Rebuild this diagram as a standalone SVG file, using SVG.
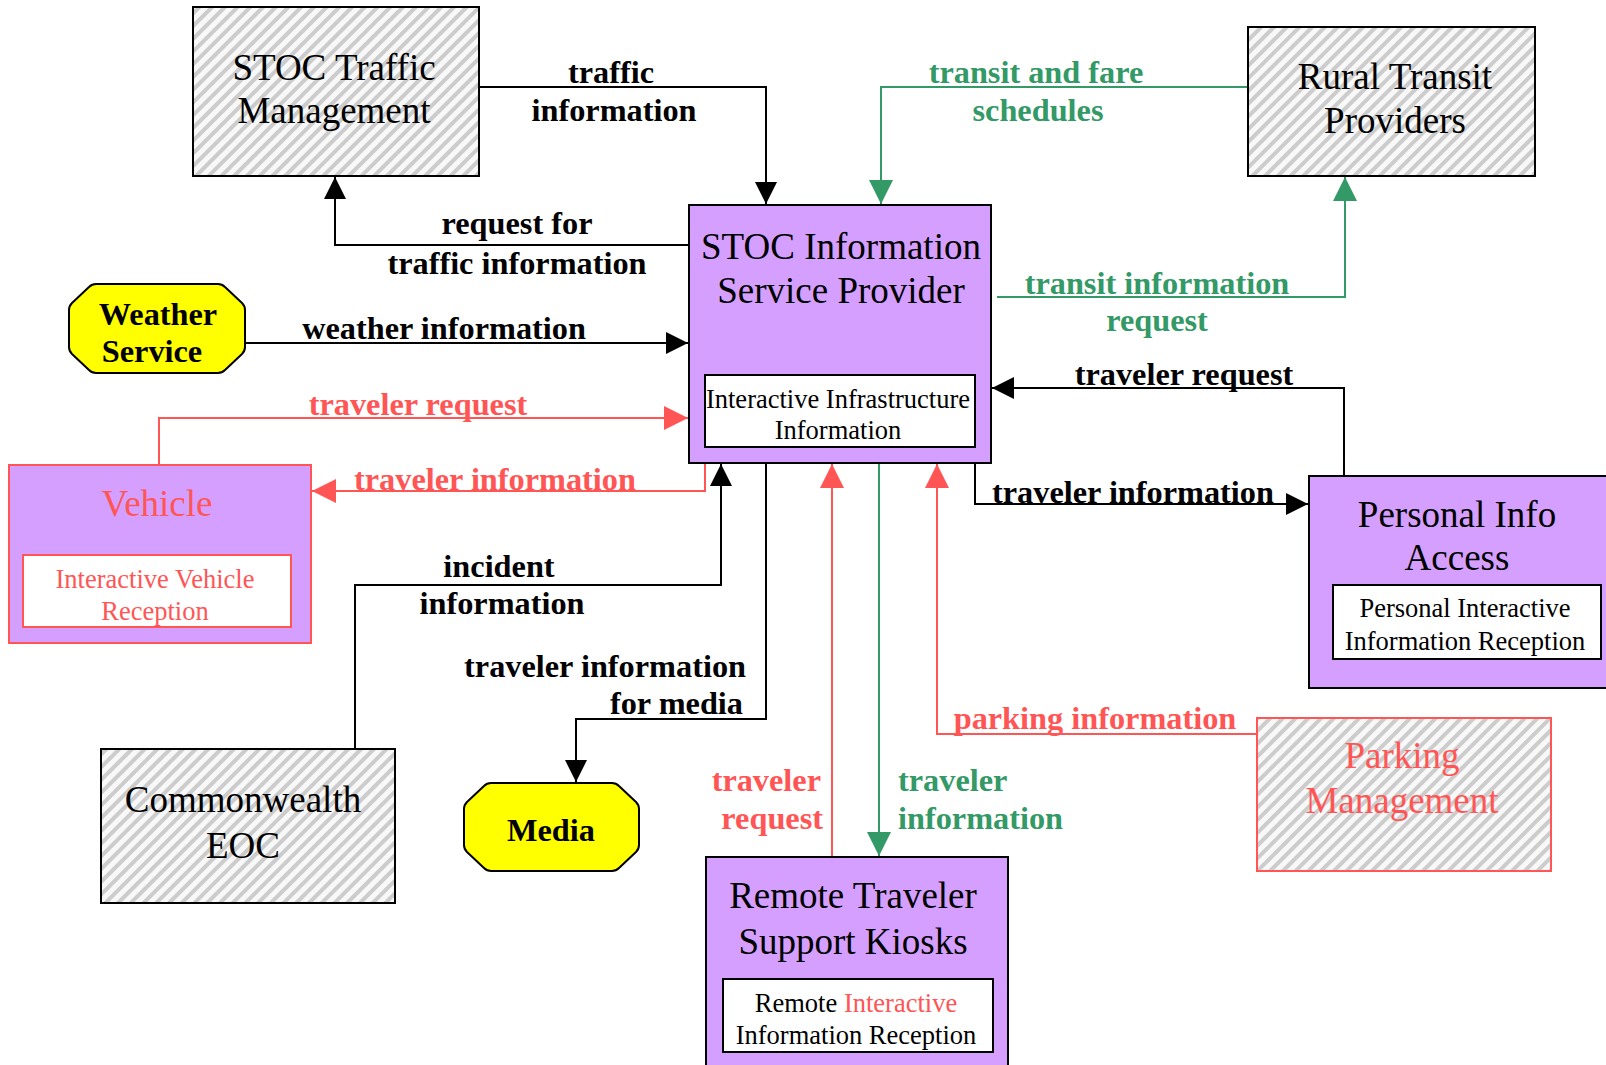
<svg xmlns="http://www.w3.org/2000/svg" width="1606" height="1065" viewBox="0 0 1606 1065">
<style>
.node-t{font-family:"Liberation Serif","Times New Roman",serif;font-size:37px;text-anchor:middle;fill:#000}
.inner-t{font-family:"Liberation Serif","Times New Roman",serif;font-size:26.5px;text-anchor:middle;fill:#000}
.lbl{font-family:"Liberation Serif","Times New Roman",serif;font-size:32.3px;font-weight:bold;fill:#000}
.red{fill:#FF5555}
.green{fill:#339966}
.c{text-anchor:middle}
.e{text-anchor:end}
.s{text-anchor:start}
.hatch{fill:url(#hatch);stroke:#000;stroke-width:2}
.hatch-red{fill:url(#hatch);stroke:#FF5555;stroke-width:2}
.purple{fill:#D49FFF;stroke:#000;stroke-width:2}
.purple-red{fill:#D49FFF;stroke:#FF5555;stroke-width:2}
.inner{fill:#fff;stroke:#000;stroke-width:2}
.inner-red{fill:#fff;stroke:#FF5555;stroke-width:2}
.yellow{fill:#FFFF00;stroke:#000;stroke-width:2;stroke-linejoin:round}
.lk{fill:none;stroke:#000;stroke-width:2}
.lr{fill:none;stroke:#FF5555;stroke-width:2}
.lg{fill:none;stroke:#339966;stroke-width:2}
</style>
<defs>
<pattern id="hatch" width="9" height="9" patternUnits="userSpaceOnUse" patternTransform="rotate(45)">
<rect width="9" height="9" fill="#f8f8f8"/>
<rect width="4" height="9" fill="#cccccc"/>
</pattern>
<marker id="ak" markerUnits="userSpaceOnUse" markerWidth="24" markerHeight="24" refX="22" refY="11" orient="auto"><path d="M0,0 L22,11 L0,22 z" fill="#000"/></marker>
<marker id="ar" markerUnits="userSpaceOnUse" markerWidth="26" markerHeight="26" refX="24" refY="12" orient="auto"><path d="M0,0 L24,12 L0,24 z" fill="#FF5555"/></marker>
<marker id="ag" markerUnits="userSpaceOnUse" markerWidth="26" markerHeight="26" refX="24" refY="12" orient="auto"><path d="M0,0 L24,12 L0,24 z" fill="#339966"/></marker>
</defs>
<rect width="1606" height="1065" fill="#fff"/>

<g id="connectors">
<path class="lk" d="M479,87 H766 V204" marker-end="url(#ak)"/>
<path class="lk" d="M689,245 H335 V177" marker-end="url(#ak)"/>
<path class="lk" d="M246,343 H688" marker-end="url(#ak)"/>
<path class="lg" d="M1248,87 H881 V204" marker-end="url(#ag)"/>
<path class="lg" d="M997,297 H1345 V177" marker-end="url(#ag)"/>
<path class="lk" d="M1344,476 V388 H992" marker-end="url(#ak)"/>
<path class="lk" d="M975,463 V504 H1308" marker-end="url(#ak)"/>
<path class="lr" d="M159,465 V418 H688" marker-end="url(#ar)"/>
<path class="lr" d="M705,463 V491 H312" marker-end="url(#ar)"/>
<path class="lk" d="M355,749 V585 H721 V464" marker-end="url(#ak)"/>
<path class="lk" d="M766,463 V719 H576 V782" marker-end="url(#ak)"/>
<path class="lr" d="M832,857 V464" marker-end="url(#ar)"/>
<path class="lg" d="M879,463 V856" marker-end="url(#ag)"/>
<path class="lr" d="M1257,734 H937 V464" marker-end="url(#ar)"/>

<text class="lbl c" x="611" y="83">traffic</text>
<text class="lbl c" x="614" y="121">information</text>
<text class="lbl c" x="517" y="234">request for</text>
<text class="lbl c" x="517" y="274">traffic information</text>
<text class="lbl c" x="444" y="339">weather information</text>
<text class="lbl c green" x="1036" y="83">transit and fare</text>
<text class="lbl c green" x="1038" y="121">schedules</text>
<text class="lbl c green" x="1157" y="294">transit information</text>
<text class="lbl c green" x="1157" y="331">request</text>
<text class="lbl c" x="1184" y="385">traveler request</text>
<text class="lbl c" x="1133" y="503">traveler information</text>
<text class="lbl c red" x="418" y="415">traveler request</text>
<text class="lbl c red" x="495" y="490">traveler information</text>
<text class="lbl c" x="499" y="577">incident</text>
<text class="lbl c" x="502" y="614">information</text>
<text class="lbl e" x="746" y="677">traveler information</text>
<text class="lbl e" x="743" y="714">for media</text>
<text class="lbl e red" x="821" y="791">traveler</text>
<text class="lbl e red" x="823" y="829">request</text>
<text class="lbl s green" x="898" y="791">traveler</text>
<text class="lbl s green" x="898" y="829">information</text>
<text class="lbl c red" x="1095" y="729">parking information</text>
</g>

<g id="stoc-traffic">
<rect class="hatch" x="193" y="7" width="286" height="169"/>
<text class="node-t" x="334" y="80">STOC Traffic</text>
<text class="node-t" x="334" y="123">Management</text>
</g>

<g id="stoc-isp">
<rect class="purple" x="689" y="205" width="302" height="258"/>
<text class="node-t" x="841" y="259">STOC Information</text>
<text class="node-t" x="841" y="303">Service Provider</text>
<rect class="inner" x="705" y="375" width="270" height="72"/>
<text class="inner-t" x="838" y="408">Interactive Infrastructure</text>
<text class="inner-t" x="838" y="439">Information</text>
</g>

<g id="rural-transit">
<rect class="hatch" x="1248" y="27" width="287" height="149"/>
<text class="node-t" x="1395" y="89">Rural Transit</text>
<text class="node-t" x="1395" y="133">Providers</text>
</g>

<g id="weather">
<path class="yellow" d="M96,284 H218 Q222,284 225,287 L242,303 Q245,306 245,310 V347 Q245,351 242,354 L225,370 Q222,373 218,373 H96 Q92,373 89,370 L72,354 Q69,351 69,347 V310 Q69,306 72,303 L89,287 Q92,284 96,284 Z"/>
<text class="lbl c" x="158" y="325">Weather</text>
<text class="lbl c" x="152" y="362">Service</text>
</g>

<g id="vehicle">
<rect class="purple-red" x="9" y="465" width="302" height="178"/>
<text class="node-t red" x="157" y="516">Vehicle</text>
<rect class="inner-red" x="23" y="555" width="268" height="72"/>
<text class="inner-t red" x="155" y="588">Interactive Vehicle</text>
<text class="inner-t red" x="155" y="620">Reception</text>
</g>

<g id="personal-info">
<rect class="purple" x="1309" y="476" width="300" height="212"/>
<text class="node-t" x="1457" y="527">Personal Info</text>
<text class="node-t" x="1457" y="570">Access</text>
<rect class="inner" x="1333" y="585" width="268" height="74"/>
<text class="inner-t" x="1465" y="617">Personal Interactive</text>
<text class="inner-t" x="1465" y="650">Information Reception</text>
</g>

<g id="parking">
<rect class="hatch-red" x="1257" y="718" width="294" height="153"/>
<text class="node-t red" x="1402" y="768">Parking</text>
<text class="node-t red" x="1402" y="813">Management</text>
</g>

<g id="commonwealth-eoc">
<rect class="hatch" x="101" y="749" width="294" height="154"/>
<text class="node-t" x="243" y="812">Commonwealth</text>
<text class="node-t" x="243" y="858">EOC</text>
</g>

<g id="media">
<path class="yellow" d="M491,783 H612 Q616,783 619,786 L636,802 Q639,805 639,809 V845 Q639,849 636,852 L619,868 Q616,871 612,871 H491 Q487,871 484,868 L467,852 Q464,849 464,845 V809 Q464,805 467,802 L484,786 Q487,783 491,783 Z"/>
<text class="lbl c" x="551" y="841">Media</text>
</g>

<g id="remote-kiosks">
<rect class="purple" x="706" y="857" width="302" height="212"/>
<text class="node-t" x="853" y="908">Remote Traveler</text>
<text class="node-t" x="853" y="954">Support Kiosks</text>
<rect class="inner" x="723" y="979" width="270" height="73"/>
<text class="inner-t" x="856" y="1012">Remote <tspan class="red">Interactive</tspan></text>
<text class="inner-t" x="856" y="1044">Information Reception</text>
</g>
</svg>
